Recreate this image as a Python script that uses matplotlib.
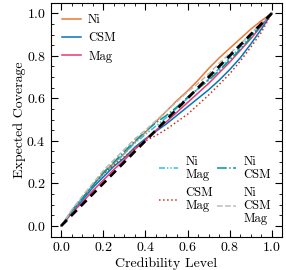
import matplotlib
matplotlib.use("Agg")
import matplotlib.pyplot as plt
from matplotlib.ticker import AutoMinorLocator, MultipleLocator

plt.rcParams['font.family'] = 'serif'
plt.rcParams['font.serif'] = ['cmr10']
plt.rcParams['mathtext.fontset'] = 'cm'
plt.rcParams['axes.formatter.use_mathtext'] = True
plt.rcParams['font.size'] = 10

# credibility levels
levels = [0.0, 0.05, 0.1, 0.15, 0.2, 0.25, 0.3, 0.35, 0.4, 0.45, 0.5,
          0.55, 0.6, 0.65, 0.7, 0.75, 0.8, 0.85, 0.9, 0.95, 1.0]

cov_ni = [0, .07, .13, .19, .25, .295, .34, .395, .44, .49, .54,
          .59, .635, .685, .74, .79, .835, .88, .925, .965, 1.0]
cov_csm = [0, .06, .12, .18, .23, .28, .32, .37, .41, .445, .48,
           .52, .56, .60, .64, .685, .735, .79, .855, .925, 1.0]
cov_mag = [0, .06, .11, .165, .215, .265, .31, .36, .405, .45, .49,
           .535, .58, .625, .67, .72, .77, .825, .88, .94, 1.0]
cov_ni_mag = [0, .065, .13, .19, .24, .29, .34, .39, .43, .47, .51,
              .555, .60, .645, .69, .74, .79, .84, .895, .95, 1.0]
cov_ni_csm = [0, .07, .13, .19, .25, .30, .35, .40, .445, .485, .52,
              .56, .605, .645, .685, .73, .78, .83, .885, .945, 1.0]
cov_csm_mag = [0, .07, .135, .195, .245, .285, .325, .365, .40, .425, .455,
               .49, .525, .57, .615, .665, .715, .775, .84, .91, 1.0]
cov_all = [0, .075, .14, .20, .26, .31, .36, .41, .45, .495, .54,
           .585, .63, .67, .715, .765, .81, .855, .905, .955, 1.0]

fig = plt.figure(figsize=(2.86, 2.70), dpi=100)
ax = fig.add_axes([0.177, 0.124, 0.81, 0.866])

h1, = ax.plot(levels, cov_ni, color='#EE7733', lw=1.1, label='Ni')
h2, = ax.plot(levels, cov_csm, color='#0077BB', lw=1.1, label='CSM')
h3, = ax.plot(levels, cov_mag, color='#EE3377', lw=1.1, label='Mag')
h4, = ax.plot(levels, cov_ni_mag, color='#33BBEE', lw=1.1,
              dashes=[4, 1.2, 1, 1.2, 1, 1.2], label='Ni\nMag')
h5, = ax.plot(levels, cov_csm_mag, color='#CC3311', lw=1.1, ls=':', label='CSM\nMag')
h6, = ax.plot(levels, cov_ni_csm, color='#009988', lw=1.1, ls='-.', label='Ni\nCSM')
h7, = ax.plot(levels, cov_all, color='#BBBBBB', lw=1.1, ls='--', label='Ni\nCSM\nMag')
ax.plot([0, 1], [0, 1], color='black', lw=2, ls='--', dashes=[3, 2], zorder=10)

leg1 = ax.legend(handles=[h1, h2, h3], loc='upper left', frameon=False, fontsize=9,
                 handlelength=1.5, handletextpad=0.6, labelspacing=0.5)
ax.add_artist(leg1)
leg2 = ax.legend(handles=[h4, h5, h6, h7], loc='lower right', ncol=2, frameon=False,
                 fontsize=9, handlelength=1.5, handletextpad=0.6,
                 columnspacing=0.35, labelspacing=0.5)
for t in leg2.get_texts():
    t.set_linespacing(1.1)

ax.set_xlabel('Credibility Level', labelpad=2)
ax.set_ylabel('Expected Coverage', labelpad=0.5)
ax.xaxis.set_major_locator(MultipleLocator(0.2))
ax.yaxis.set_major_locator(MultipleLocator(0.2))
ax.xaxis.set_minor_locator(AutoMinorLocator(4))
ax.yaxis.set_minor_locator(AutoMinorLocator(4))
ax.tick_params(which='both', direction='in', top=True, right=True)
ax.tick_params(which='major', length=5)
ax.tick_params(which='minor', length=2.5)

fig.savefig('out.png', dpi=100)
